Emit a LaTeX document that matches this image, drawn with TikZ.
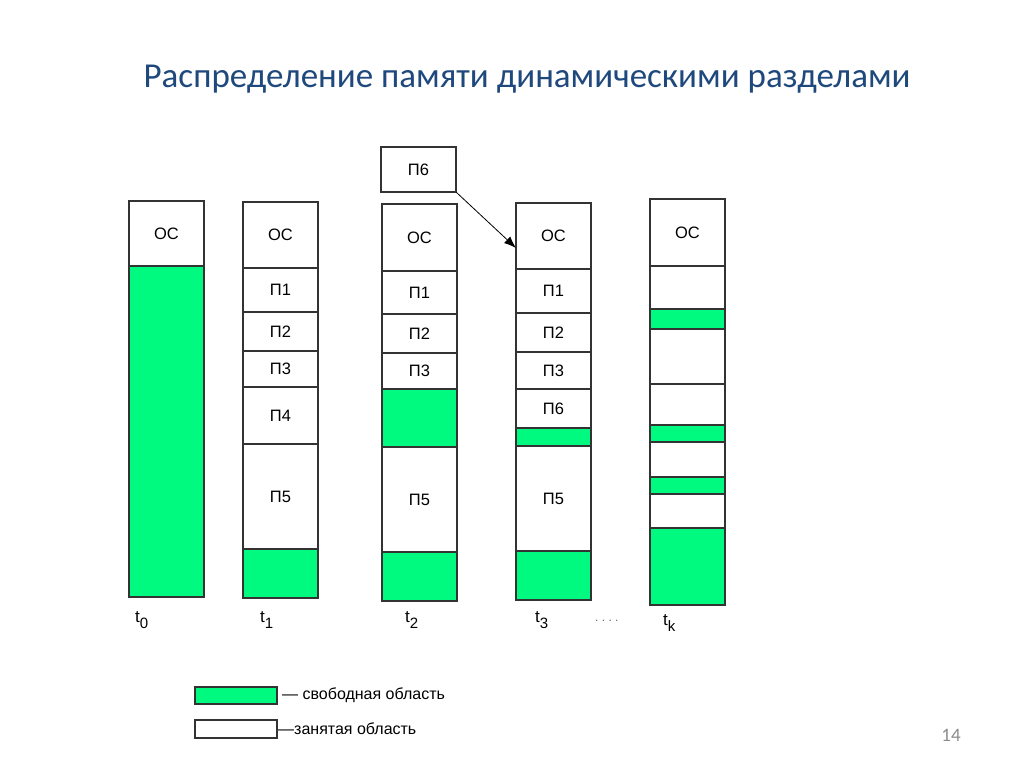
\documentclass[tikz,border=0pt]{standalone}
\usepackage{fontspec}
\setmainfont{Liberation Sans}
\newfontfamily\titlefont{Carlito}
\usetikzlibrary{arrows.meta, positioning}
\definecolor{freegreen}{RGB}{0,250,128}
\definecolor{titleblue}{HTML}{1F497D}
\definecolor{boxline}{HTML}{333333}

\begin{document}
\begin{tikzpicture}[x=1pt, y=-1pt, >=Latex, font=\fontsize{16.5}{18}\selectfont,
  seg/.style={draw=boxline, line width=1.1pt, minimum width=75pt, inner sep=0pt, outer sep=0pt, anchor=north},
  free/.style={seg, fill=freegreen},
  tlbl/.style={font=\fontsize{17}{18}\selectfont, anchor=base west, inner sep=0pt}]
  \fill[white] (0,0) rectangle (1024,767);
  \useasboundingbox (0,0) rectangle (1024,767);

  % Nadpis
  \node[font=\titlefont\fontsize{35}{40}\selectfont, text=titleblue] (title) at (527,79) {Распределение памяти динамическими разделами};

  % t0
  \node[seg, minimum height=65pt] (os0) at (166.5,201) {ОС};
  \node[free, minimum height=331pt, below=0pt of os0] (f0) {};

  % t1
  \node[seg, minimum height=66pt] (os1) at (280.5,202) {ОС};
  \node[seg, minimum height=44pt, below=0pt of os1] (p1a) {П1};
  \node[seg, minimum height=39pt, below=0pt of p1a] (p2a) {П2};
  \node[seg, minimum height=36pt, below=0pt of p2a] (p3a) {П3};
  \node[seg, minimum height=57pt, below=0pt of p3a] (p4a) {П4};
  \node[seg, minimum height=105pt, below=0pt of p4a] (p5a) {П5};
  \node[free, minimum height=49pt, below=0pt of p5a] (f1) {};

  % t2
  \node[seg, minimum height=45pt] (p6new) at (418.5,147) {П6};
  \node[seg, minimum height=67pt] (os2) at (419.5,204) {ОС};
  \node[seg, minimum height=43pt, below=0pt of os2] (p1b) {П1};
  \node[seg, minimum height=39pt, below=0pt of p1b] (p2b) {П2};
  \node[seg, minimum height=36pt, below=0pt of p2b] (p3b) {П3};
  \node[free, minimum height=58pt, below=0pt of p3b] (f2a) {};
  \node[seg, minimum height=105pt, below=0pt of f2a] (p5b) {П5};
  \node[free, minimum height=49pt, below=0pt of p5b] (f2b) {};

  % t3
  \node[seg, minimum height=66pt] (os3) at (553.5,203) {ОС};
  \node[seg, minimum height=44pt, below=0pt of os3] (p1c) {П1};
  \node[seg, minimum height=39pt, below=0pt of p1c] (p2c) {П2};
  \node[seg, minimum height=37pt, below=0pt of p2c] (p3c) {П3};
  \node[seg, minimum height=39pt, below=0pt of p3c] (p6c) {П6};
  \node[free, minimum height=18pt, below=0pt of p6c] (f3a) {};
  \node[seg, minimum height=105pt, below=0pt of f3a] (p5c) {П5};
  \node[free, minimum height=49pt, below=0pt of p5c] (f3b) {};

  % Presun P6
  \draw[->, line width=0.8pt, -{Latex[length=12pt, width=9pt]}] (p6new.south east) -- ([yshift=21pt]os3.south west);

  % tk
  \node[seg, minimum height=67pt] (osk) at (687.5,199) {ОС};
  \node[seg, minimum height=43pt, below=0pt of osk] (bk1) {};
  \node[free, minimum height=20pt, below=0pt of bk1] (fk1) {};
  \node[seg, minimum height=55pt, below=0pt of fk1] (bk2) {};
  \node[seg, minimum height=41pt, below=0pt of bk2] (bk3) {};
  \node[free, minimum height=17pt, below=0pt of bk3] (fk2) {};
  \node[seg, minimum height=35pt, below=0pt of fk2] (bk4) {};
  \node[free, minimum height=17pt, below=0pt of bk4] (fk3) {};
  \node[seg, minimum height=34pt, below=0pt of fk3] (bk5) {};
  \node[free, minimum height=77pt, below=0pt of bk5] (fk4) {};

  % Casove okamziky
  \node[tlbl] (t0) at (135,622) {t\raisebox{-6pt}{\fontsize{15}{15}\selectfont 0}};
  \node[tlbl] (t1) at (260,622) {t\raisebox{-6pt}{\fontsize{15}{15}\selectfont 1}};
  \node[tlbl] (t2) at (405,622) {t\raisebox{-6pt}{\fontsize{15}{15}\selectfont 2}};
  \node[tlbl] (t3) at (535,622) {t\raisebox{-6pt}{\fontsize{15}{15}\selectfont 3}};
  \node[tlbl, font=\fontsize{12}{12}\selectfont, text=black!60] (dots) at (595,621) {.\ .\ .\ .};
  \node[tlbl] (tk) at (663,625) {t\raisebox{-6pt}{\fontsize{15}{15}\selectfont k}};

  % Legenda
  \node[free, anchor=north west, minimum width=82pt, minimum height=17pt] (lfree) at (195,687) {};
  \node[seg, anchor=north west, minimum width=82pt, minimum height=18pt] (lbusy) at (195,720) {};
  \node[right=5pt of lfree, inner sep=0pt, font=\fontsize{16}{18}\selectfont] (lfreetxt) {— свободная область};
  \node[right=1pt of lbusy, inner sep=0pt, font=\fontsize{16}{18}\selectfont] (lbusytxt) {—занятая область};

  % Cislo snimku
  \node[font=\titlefont\fontsize{19}{22}\selectfont, text=black!45] (pnum) at (951,735) {14};
\end{tikzpicture}
\end{document}
